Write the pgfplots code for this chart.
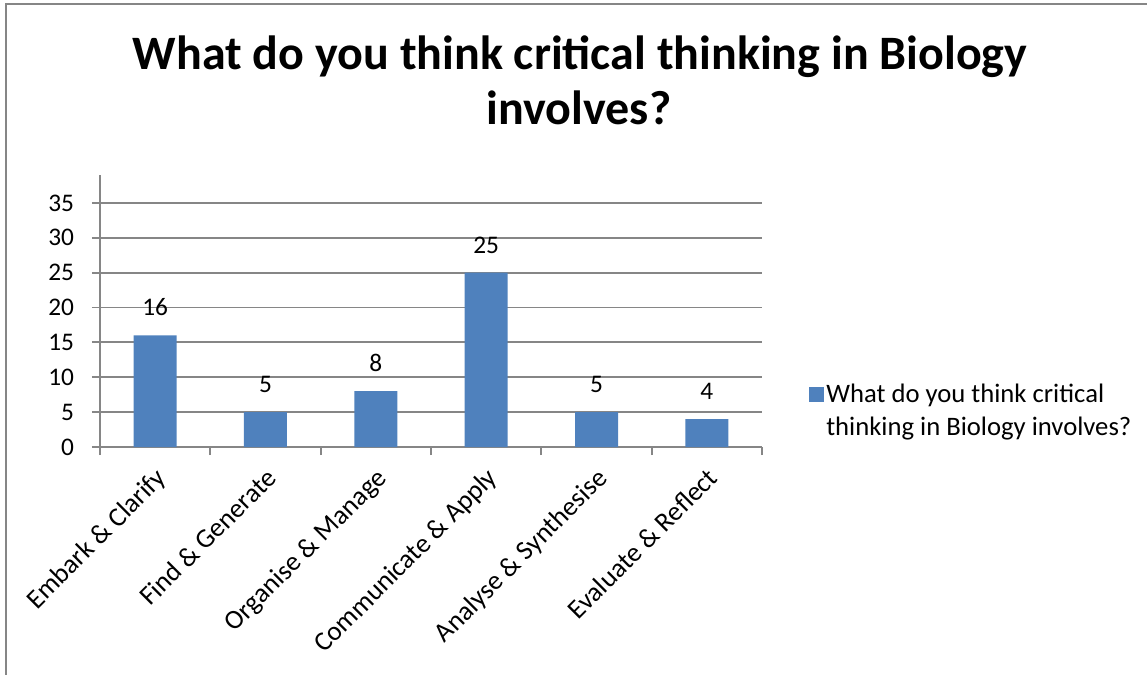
\documentclass[border=0pt]{standalone}
\usepackage{pgfplots}
\pgfplotsset{compat=1.18}
\usepackage{fontspec}
\setmainfont{Carlito}
\usetikzlibrary{calc}
\definecolor{barblue}{HTML}{4F81BD}
\definecolor{gridgray}{HTML}{868686}
\begin{document}
\begin{tikzpicture}[x=1pt,y=1pt]
\begin{axis}[
  scale only axis,
  width=496.5pt, height=204pt,
  xmin=0, xmax=6, ymin=0, ymax=39,
  axis lines=left, axis line style={gridgray, line width=1.4pt, -},
  ybar, bar width=32.25pt,
  ytick={0,5,...,35},
  ymajorgrids, grid style={gridgray, line width=1.4pt},
  xtick={0.5,1.5,...,5.5},
  xticklabels={Embark \& Clarify, Find \& Generate, Organise \& Manage, Communicate \& Apply, Analyse \& Synthesise, Evaluate \& Reflect},
  minor xtick={0,1,...,6},
  tick align=outside,
  major x tick style={draw=none},
  major tick length=6pt, minor tick length=6pt,
  tick style={gridgray, line width=1.4pt},
  x tick label style={rotate=45, anchor=north east, xshift=-3pt, yshift=-2pt, font=\fontsize{20.3}{24}\selectfont},
  y tick label style={xshift=-10pt, font=\fontsize{19}{23}\selectfont},
  /pgf/number format/assume math mode=true,
  nodes near coords,
  every node near coord/.append style={font=\fontsize{19}{23}\selectfont, black, yshift=11pt},
  legend style={draw=none, at={(axis description cs:1.064,0.135)}, anchor=west, font=\fontsize{20}{24.75}\selectfont, cells={align=left}},
  legend cell align=left,
  legend image code/.code={\fill[#1] (0pt,6.4pt) rectangle (11.25pt,17.65pt);},
]
\addplot[fill=barblue, draw=none] coordinates {(0.5,16) (1.5,5) (2.5,8) (3.5,25) (4.5,5) (5.5,4)};
\addlegendentry{What do you think critical\\thinking in Biology involves?}
\coordinate (O) at (rel axis cs:0,0);
\end{axis}
\pgfresetboundingbox
\useasboundingbox ($(O)+(-75,-171)$) rectangle ($(O)+(785.25,335.25)$);
\draw[gridgray, line width=1.5pt] ($(O)+(-70.5,-171)$) -- ($(O)+(-70.5,332.25)$) -- ($(O)+(785.25,332.25)$);
\node[font=\bfseries\fontsize{36}{43}\selectfont, anchor=base, inner sep=0pt] at ($(O)+(360,282.75)$) {What do you think critical thinking in Biology};
\node[font=\bfseries\fontsize{36}{43}\selectfont, anchor=base, inner sep=0pt] at ($(O)+(359.25,241.5)$) {involves?};
\end{tikzpicture}
\end{document}
